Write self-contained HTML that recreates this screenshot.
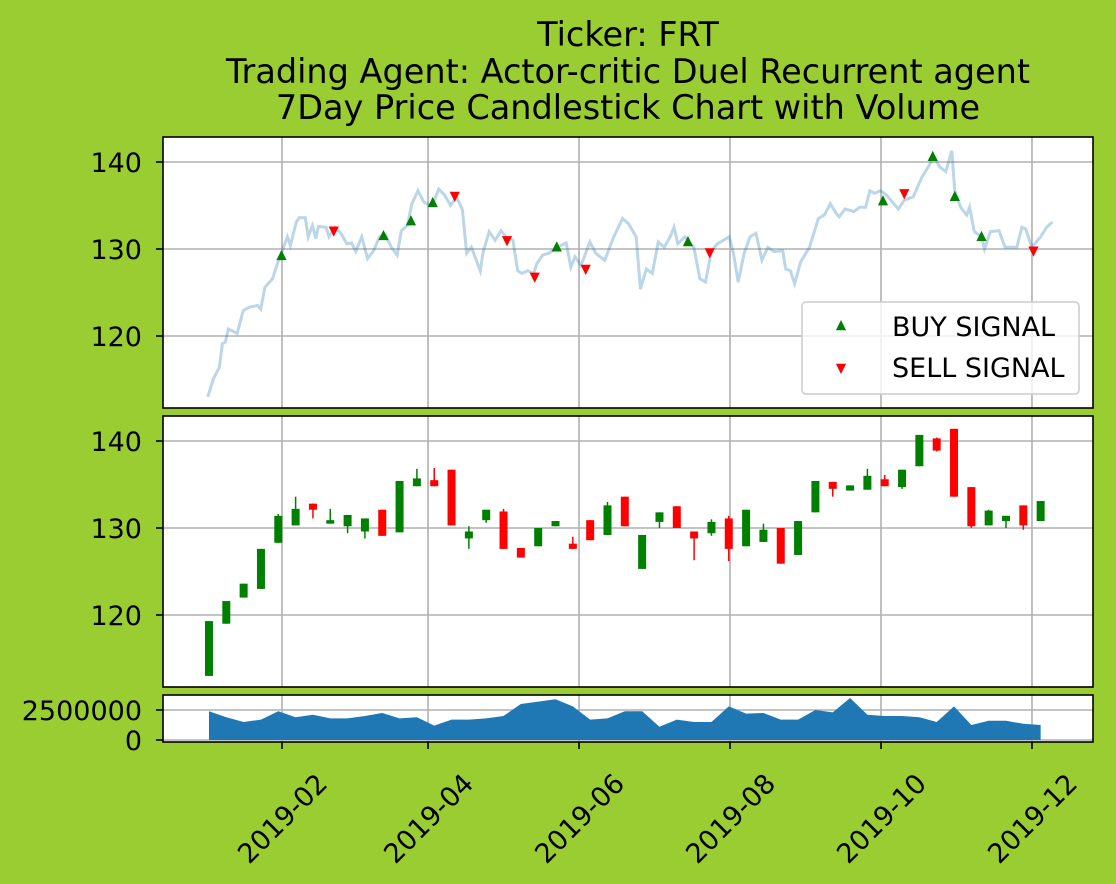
<!DOCTYPE html>
<html><head><meta charset="utf-8"><style>
html,body{margin:0;padding:0;background:#9acd32;}
svg{display:block;font-family:"DejaVu Sans","Liberation Sans",sans-serif;}
</style></head><body>
<svg id="chart" width="1116" height="884" viewBox="0 0 1116 884">
<rect x="0" y="0" width="1116" height="884" fill="#9acd32"/>
<text x="628" y="46" font-size="33.5" text-anchor="middle">Ticker: FRT</text>
<text x="628" y="83" font-size="33.5" text-anchor="middle">Trading Agent: Actor-critic Duel Recurrent agent</text>
<text x="628" y="119" font-size="33.5" text-anchor="middle">7Day Price Candlestick Chart with Volume</text>
<g id="g"></g>
</svg>
<script>
// Price line (days since 2019-01-01, close)
const lineDays=[1,3.3,5.7,6.9,8.1,9.3,12.9,15.3,17.6,21.2,22.4,24.1,27.2,29.6,33.2,34.4,36.8,38,40.4,41.6,43.3,44.7,45.7,48.8,50,52.4,54.8,57.2,59.1,60.8,63.2,65.6,68,70.4,72.8,75.2,77.5,79.2,81.6,83.5,85.9,88.3,90.7,92.6,94.3,96.7,99.1,101.5,103.9,105.6,107.5,111.1,112.3,114.7,117.1,119.5,121.4,124.3,126.2,127.9,130.3,132.7,133.9,136.3,138.7,142.2,145.8,147.7,149.4,151.8,155.4,157.8,161.4,165,168.6,171,174.1,175.8,178.2,180.6,183,185.4,187.8,189.4,190.9,193.8,197.4,199.8,202.1,204.5,206.9,209.3,211.7,213.4,215.3,217.7,220.1,222.5,224.9,227.3,229.7,233.3,234.5,236.4,238.1,240.5,244.1,247.7,250.1,252.5,254.9,256.1,258.5,262,264.4,266.8,268.5,270.4,272.8,275.2,277.6,280,282.4,286,289.6,292,294.4,296.8,299.2,301.6,302.8,305.2,307.6,308.8,310.7,313.6,314.8,317.2,320.7,323.1,327.9,329.9,331.5,333.9,337.5,339.9,342.3];
const linePrices=[113,115.1,116.4,119.1,119.3,120.8,120.3,122.9,123.3,123.5,123.1,125.6,126.6,128.7,131.4,130.4,133.1,133.6,133.6,131.4,132.7,131.2,132.6,132.5,131.4,132.5,131.8,130.6,130.7,129.7,131.4,128.9,129.8,131.4,131.6,130.2,129.3,132.1,132.7,135.2,136.7,135.4,135,135.6,136.9,136.2,135,136,134.5,129.5,130.2,127.5,129.7,132,131,132.1,131.4,131,127.5,127.2,127.5,127.2,128.3,129.3,129.5,130.2,130.7,127.9,129.1,128.1,130.8,129.5,128.7,131.4,133.5,132.9,131.4,125.4,127.7,127.2,130.8,130.2,131.4,132.5,130.6,131.4,130.2,126.6,126.2,129.8,130.6,131,131.4,129.5,126.2,129.5,131.4,131.8,128.7,130.2,129.7,129.8,127.7,127.5,126,128.5,130.2,133.5,133.9,135.2,134.1,133.7,134.6,134.3,134.8,134.8,136.7,136.4,136.7,136.2,135.4,134.6,135.6,136,138.3,139.4,140.6,139.4,138.9,141.3,136.7,134.8,133.9,134.8,132,131.4,130,132,132.1,130.2,130.2,132.5,132.3,130.2,131.4,132.5,133.1];
// Signals
const buyDays=[30.8,72,83.1,91.9,142,195,273.8,293.9,302.8,313.6];
const buyPrices=[129.2,131.5,133.2,135.3,130.2,130.8,135.5,140.6,136,131.4];
const sellDays=[51.9,100.8,121.9,133.1,153.7,203.8,282.4,334.6];
const sellPrices=[132.1,136.1,131,126.8,127.7,129.6,136.4,129.8];
// Weekly candles
const opens =[113,119,122,123,128.3,130.3,132.8,130.5,130.2,129.6,132.1,129.5,134.8,135.5,136.7,128.8,130.9,131.9,127.7,127.9,130.2,128.2,130.9,129.2,133.6,125.3,130.7,132.5,129.6,129.4,131.1,127.9,128.4,130,126.9,131.8,135.3,134.3,134.4,135.6,134.7,137.1,140.3,141.4,134.7,130.3,130.8,132.6,130.8];
const closes=[119.3,121.6,123.6,127.6,131.4,132.2,132.1,130.9,131.5,131.1,129.1,135.4,135.7,134.8,130.3,129.6,132.1,127.6,126.6,130,130.8,127.6,128.6,132.6,130.2,129.2,131.8,130,128.8,130.7,127.6,132.1,129.8,125.9,130.8,135.4,134.5,134.9,136,134.8,136.7,140.7,138.9,133.6,130.2,132,131.4,130.3,133.1];
const highs =[119.3,121.6,123.6,127.6,131.6,133.6,132.8,132.2,131.5,131.1,132.1,135.4,136.8,136.9,136.7,130.2,132.1,132.2,127.7,130,130.8,129,130.9,133,133.6,129.2,131.8,132.5,129.6,131,131.4,132.1,130.5,130,130.8,135.4,135.3,134.9,136.8,136.1,136.7,140.7,140.4,141.4,134.7,132.1,131.4,132.6,133.1];
const lows  =[113,119,122,123,128.3,130.3,131.1,130.5,129.4,128.8,129.1,129.5,134.8,134.8,130.3,127.6,130.6,127.6,126.6,127.9,130.2,127.6,128.6,129.2,130.2,125.3,130,130,126.3,129.1,126.2,127.9,128.4,125.9,126.9,131.8,133.6,134.3,134.4,134.8,134.5,137.1,138.8,133.6,130,130.3,130,129.8,130.8];
const volumes=[2.4,1.9,1.5,1.7,2.4,1.9,2.1,1.8,1.8,2.0,2.25,1.8,1.9,1.2,1.7,1.7,1.8,2.0,3.0,3.2,3.4,2.8,1.7,1.8,2.4,2.4,1.1,1.7,1.5,1.5,2.8,2.2,2.25,1.7,1.7,2.5,2.3,3.5,2.1,2.0,2.0,1.9,1.5,2.8,1.25,1.6,1.6,1.35,1.25]; // millions
const firstCandleDay=1.5, candleStep=7;
const xTickLabels=['2019-02','2019-04','2019-06','2019-08','2019-10','2019-12'];
const xTickDays=[31,90,151,212,273,334];
const priceTicks=[120,130,140];
const volTicks=[0,2500000];
const volTickLabels=['0','2500000'];

const NS='http://www.w3.org/2000/svg';
const g=document.getElementById('g');
function el(t,a,p){const e=document.createElementNS(NS,t);for(const k in a)e.setAttribute(k,a[k]);(p||g).appendChild(e);return e;}
const AX0=163,AX1=1093,FS=27;
const xs=d=>205.27+d*2.4752;
const yTop=p=>162+(140-p)*8.7;
const yMid=p=>441+(140-p)*8.7;
const yVol=v=>740-v/1e6*12;
const panels=[{y0:137,y1:408,n:'price-panel'},{y0:416,y1:687,n:'candle-panel'},{y0:695,y1:742,n:'volume-panel'}];
panels.forEach(p=>{
  const r=el('rect',{x:AX0,y:p.y0,width:AX1-AX0,height:p.y1-p.y0,fill:'#fff'});
  
  
  xTickDays.forEach(d=>{const l=el('line',{x1:xs(d),x2:xs(d),y1:p.y0,y2:p.y1,stroke:'#b0b0b0','stroke-width':1.6});
    
    });
});
[[yTop,'price'],[yMid,'candle']].forEach(([f,n])=>{
  priceTicks.forEach(v=>{
    const l=el('line',{x1:AX0,x2:AX1,y1:f(v),y2:f(v),stroke:'#b0b0b0','stroke-width':1.6});
    
    
    el('line',{x1:AX0-7,x2:AX0,y1:f(v),y2:f(v),stroke:'#000','stroke-width':1.6});
    const t=el('text',{x:AX0-21,y:f(v)+10,'font-size':FS,'text-anchor':'end'});t.textContent=v;
    
    
  });
});
volTicks.forEach((v,i)=>{
  const l=el('line',{x1:AX0,x2:AX1,y1:yVol(v),y2:yVol(v),stroke:'#b0b0b0','stroke-width':1.6});
  
  
  el('line',{x1:AX0-7,x2:AX0,y1:yVol(v),y2:yVol(v),stroke:'#000','stroke-width':1.6});
  const t=el('text',{x:AX0-21,y:yVol(v)+10,'font-size':FS,'text-anchor':'end'});t.textContent=volTickLabels[i];
  
  
});
const pl=el('polyline',{points:lineDays.map((d,i)=>xs(d)+','+yTop(linePrices[i])).join(' '),fill:'none',stroke:'#1f77b4','stroke-opacity':0.3,'stroke-width':3});


function tri(x,y,up,c,name){
  const s=6;const pts=up?[[x,y-s],[x-s*0.85,y+s*0.7],[x+s*0.85,y+s*0.7]]:[[x,y+s],[x-s*0.85,y-s*0.7],[x+s*0.85,y-s*0.7]];
  const m=el('polygon',{points:pts.map(p=>p.join(',')).join(' '),fill:c});
  
  
}
buyDays.forEach((d,i)=>tri(xs(d),yTop(buyPrices[i]),true,'#008000','buy-signal-marker'));
sellDays.forEach((d,i)=>tri(xs(d),yTop(sellPrices[i]),false,'#ff0000','sell-signal-marker'));
const lg=el('rect',{x:802,y:302,width:277,height:92,rx:4,fill:'#fff','fill-opacity':0.8,stroke:'#cccccc','stroke-width':1.5});


tri(841,326,true,'#008000','legend-buy-marker');
tri(841,368,false,'#ff0000','legend-sell-marker');
const t1=el('text',{x:892,y:336,'font-size':FS});t1.textContent='BUY SIGNAL';


const t2=el('text',{x:892,y:377,'font-size':FS});t2.textContent='SELL SIGNAL';


opens.forEach((o,i)=>{
  const c=closes[i],x=xs(firstCandleDay+candleStep*i),col=c>=o?'#008000':'#ff0000';
  const w=el('line',{x1:x,x2:x,y1:yMid(highs[i]),y2:yMid(lows[i]),stroke:col,'stroke-width':1.5});
  
  
  const top=yMid(Math.max(o,c)),bot=yMid(Math.min(o,c));
  const b=el('rect',{x:x-4,y:top,width:8,height:Math.max(bot-top,1),fill:col});
  
  
});
const vx=volumes.map((v,i)=>xs(firstCandleDay+candleStep*i));
const vp=vx.map((x,i)=>x+','+yVol(volumes[i]*1e6)).join(' ');
const va=el('polygon',{points:vx[0]+','+yVol(0)+' '+vp+' '+vx[vx.length-1]+','+yVol(0),fill:'#1f77b4'});


panels.forEach(p=>{const r=el('rect',{x:AX0,y:p.y0,width:AX1-AX0,height:p.y1-p.y0,fill:'none',stroke:'#000','stroke-width':1.6});
  
  });
xTickDays.forEach((d,i)=>{
  const x=xs(d);
  el('line',{x1:x,x2:x,y1:742,y2:749,stroke:'#000','stroke-width':1.6});
  const t=el('text',{x:x,y:828,'font-size':FS,'text-anchor':'middle',transform:'rotate(-45 '+x+' 818)'});
  t.textContent=xTickLabels[i];
  
  
});
</script>
</body></html>
